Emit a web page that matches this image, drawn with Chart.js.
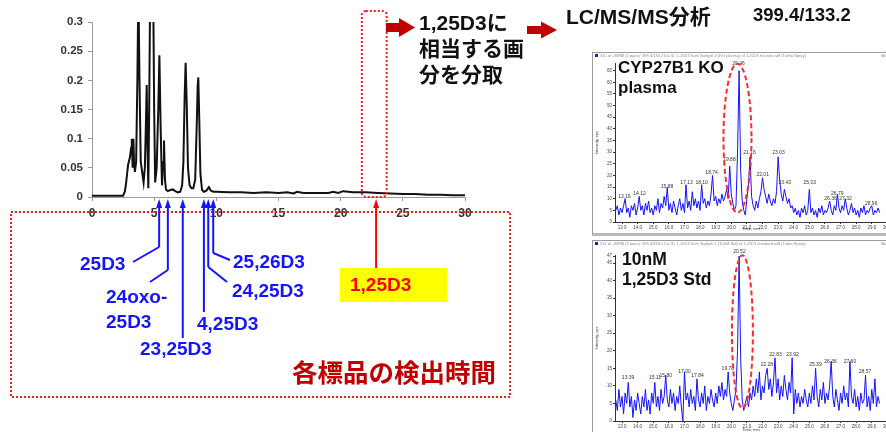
<!DOCTYPE html>
<html>
<head>
<meta charset="utf-8">
<script src="https://cdn.jsdelivr.net/npm/chart.js@4.4.1/dist/chart.umd.min.js"></script>
<style>
  html, body { margin: 0; padding: 0; background: #fff; }
  body { width: 886px; height: 432px; position: relative; overflow: hidden; }
  #main { position: absolute; left: 0; top: 0; }
  .ms { position: absolute; left: 592px; width: 310px; border: 1px solid #9a9a9a; background: #fff; }
  .ms canvas { display: block; }
  #koBox { top: 52px; height: 180px; border-bottom: 3px solid #b8b8b8; }
  #stdBox { top: 240px; height: 200px; }
</style>
</head>
<body>
<canvas id="main" width="886" height="432"></canvas>
<div class="ms" id="koBox"><canvas id="koChart" width="310" height="180"></canvas></div>
<div class="ms" id="stdBox"><canvas id="stdChart" width="310" height="200"></canvas></div>
<script>
const SANS = '"Liberation Sans", "Noto Sans CJK JP", sans-serif';
Chart.defaults.font.family = SANS;

// ===== DATA: fraction chromatogram (UV, 0-30 min) =====
const mainTime = [
  0, 2.5, 2.65, 2.75, 2.9, 3.05, 3.15, 3.2, 3.27, 3.33,
  3.38, 3.45, 3.55, 3.65, 3.73, 3.82, 3.92, 4.02, 4.15, 4.25,
  4.33, 4.4, 4.47, 4.53, 4.6, 4.68, 4.8, 4.92, 5.0, 5.08,
  5.2, 5.33, 5.42, 5.52, 5.63, 5.72, 5.79, 5.87, 5.95, 6.1,
  6.3, 6.5, 6.7, 6.9, 7.1, 7.25, 7.35, 7.45, 7.53, 7.62,
  7.72, 7.85, 8.0, 8.15, 8.3, 8.42, 8.5, 8.55, 8.62, 8.72,
  8.85, 9.0, 9.2, 9.4, 9.55, 9.75, 10, 11, 12, 13,
  14, 15, 15.7, 16.2, 16.5, 17, 18, 19, 19.4, 19.8,
  20.2, 20.6, 21, 22, 23, 24, 25, 26, 27, 28,
  29, 30
];
const mainAbs = [
  0.002, 0.002, 0.01, 0.025, 0.055, 0.068, 0.085, 0.1, 0.05, 0.1,
  0.06, 0.043, 0.06, 0.2, 0.36, 0.2, 0.06, 0.045, 0.025, 0.05,
  0.12, 0.192, 0.08, 0.015, 0.15, 0.36, 0.42, 0.36, 0.15, 0.025,
  0.05, 0.15, 0.243, 0.12, 0.02, 0.06, 0.097, 0.03, 0.013, 0.01,
  0.012, 0.013, 0.01, 0.008, 0.009, 0.02, 0.06, 0.17, 0.23, 0.16,
  0.05, 0.02, 0.015, 0.015, 0.03, 0.12, 0.19, 0.205, 0.14, 0.04,
  0.012, 0.009, 0.011, 0.017, 0.011, 0.009, 0.009, 0.008, 0.008, 0.007,
  0.008, 0.007, 0.008, 0.006, 0.009, 0.007, 0.007, 0.007, 0.009, 0.007,
  0.01, 0.009, 0.008, 0.008, 0.007, 0.006, 0.005, 0.005, 0.004, 0.004,
  0.003, 0.003
];
const mainXTicks = [0, 5, 10, 15, 20, 25, 30];
const mainYTicks = [0, 0.05, 0.1, 0.15, 0.2, 0.25, 0.3];

const stdNames = ['25D3', '24oxo-25D3', '23,25D3', '4,25D3', '24,25D3', '25,26D3'];
const stdTimes = [5.4, 6.1, 7.3, 9.0, 9.35, 9.75];
const targetName = '1,25D3';
const targetTime = 22.85;
const fractionWindow = [21.7, 23.7];

// ===== DATA: LC/MS/MS traces 399.4/133.2 =====
const msTimes = [
  12.6, 12.7, 12.8, 12.9, 13.0, 13.1, 13.2, 13.3, 13.4, 13.5,
  13.6, 13.7, 13.8, 13.9, 14.0, 14.1, 14.2, 14.3, 14.4, 14.5,
  14.6, 14.7, 14.8, 14.9, 15.0, 15.1, 15.2, 15.3, 15.4, 15.5,
  15.6, 15.7, 15.8, 15.9, 16.0, 16.1, 16.2, 16.3, 16.4, 16.5,
  16.6, 16.7, 16.8, 16.9, 17.0, 17.1, 17.2, 17.3, 17.4, 17.5,
  17.6, 17.7, 17.8, 17.9, 18.0, 18.1, 18.2, 18.3, 18.4, 18.5,
  18.6, 18.7, 18.8, 18.9, 19.0, 19.1, 19.2, 19.3, 19.4, 19.5,
  19.6, 19.7, 19.8, 19.9, 20.0, 20.1, 20.2, 20.3, 20.4, 20.5,
  20.6, 20.7, 20.8, 20.9, 21.0, 21.1, 21.2, 21.3, 21.4, 21.5,
  21.6, 21.7, 21.8, 21.9, 22.0, 22.1, 22.2, 22.3, 22.4, 22.5,
  22.6, 22.7, 22.8, 22.9, 23.0, 23.1, 23.2, 23.3, 23.4, 23.5,
  23.6, 23.7, 23.8, 23.9, 24.0, 24.1, 24.2, 24.3, 24.4, 24.5,
  24.6, 24.7, 24.8, 24.9, 25.0, 25.1, 25.2, 25.3, 25.4, 25.5,
  25.6, 25.7, 25.8, 25.9, 26.0, 26.1, 26.2, 26.3, 26.4, 26.5,
  26.6, 26.7, 26.8, 26.9, 27.0, 27.1, 27.2, 27.3, 27.4, 27.5,
  27.6, 27.7, 27.8, 27.9, 28.0, 28.1, 28.2, 28.3, 28.4, 28.5,
  28.6, 28.7, 28.8, 28.9, 29.0, 29.1, 29.2, 29.3, 29.4, 29.5
];
const koCps = [
  5, 7, 3, 6, 4, 7, 10, 4, 6, 2,
  7, 5, 8, 3, 6, 11, 5, 7, 3, 8,
  5, 9, 4, 6, 3, 7, 5, 10, 4, 8,
  6, 11, 7, 15, 5, 8, 4, 9, 6, 3,
  7, 10, 5, 8, 4, 16, 6, 9, 5, 13,
  7, 10, 6, 9, 5, 16, 8, 10, 6, 9,
  7, 12, 20, 9, 11, 7, 10, 8, 12, 9,
  11, 14, 10, 24, 12, 8, 5, 7, 30, 65,
  22, 9, 5, 3, 10, 16, 28, 11, 7, 5,
  9, 6, 10, 13, 19, 14, 11, 8, 12, 9,
  7, 10, 8, 13, 28, 18, 12, 9, 14, 11,
  8, 10, 6, 7, 4, 6, 3, 5, 2, 6,
  4, 7, 3, 5, 14, 4, 6, 3, 5, 2,
  6, 4, 7, 3, 5, 4, 6, 9, 5, 3,
  7, 5, 12, 6, 4, 7, 5, 10, 6, 3,
  5, 8, 4, 6, 3, 5, 2, 6, 4, 7,
  3, 5, 4, 6, 7, 3, 5, 4, 6, 4
];
const stdCps = [
  6, 3, 9, 4, 7, 2, 8, 5, 11, 4,
  7, 1, 6, 3, 8, 5, 2, 7, 4, 9,
  3, 6, 2, 8, 5, 11, 4, 7, 3, 9,
  5, 7, 13, 6, 4, 9, 5, 8, 3, 7,
  5, 10, 4, 0, 14, 6, 8, 4, 9, 5,
  7, 3, 12, 6, 4, 8, 5, 10, 3, 7,
  5, 9, 6, 4, 8, 5, 10, 7, 11, 6,
  9, 7, 14, 8, 5, 3, 6, 9, 20, 47,
  18, 6, 3, 5, 7, 4, 8, 6, 10, 7,
  12, 8, 14, 6, 10, 8, 13, 15, 9, 12,
  7, 11, 18, 8, 12, 6, 10, 7, 13, 9,
  6, 11, 8, 18, 2, 9, 5, 8, 4, 7,
  5, 9, 6, 4, 8, 5, 10, 6, 15, 7,
  4, 9, 6, 11, 5, 8, 6, 10, 17, 7,
  4, 9, 6, 3, 8, 5, 10, 6, 8, 4,
  17, 7, 5, 9, 4, 7, 3, 8, 5, 6,
  13, 4, 7, 3, 9, 5, 12, 4, 7, 5
];
const msXTicks = [13, 14, 15, 16, 17, 18, 19, 20, 21, 22, 23, 24, 25, 26, 27, 28, 29, 30];
const koYTicks = [0, 5, 10, 15, 20, 25, 30, 35, 40, 45, 50, 55, 60, 65];
const stdYTicks = [0, 5, 10, 15, 20, 25, 30, 35, 40, 45, 47];

const koPeakTimes = [13.16, 14.12, 15.88, 17.13, 18.10, 18.74, 19.88, 20.46, 21.16, 22.01, 23.03, 23.43, 25.03, 26.36, 26.79, 27.32, 28.96];
const koPeakLevels = [11, 12, 15, 17, 17, 21, 27, 68, 30, 20.5, 30, 17, 17, 10, 12, 10, 8];
const stdPeakTimes = [13.39, 15.11, 15.80, 17.00, 17.84, 19.78, 20.52, 22.28, 22.83, 23.92, 25.39, 26.36, 27.60, 28.57];
const stdPeakLevels = [12.5, 12.5, 13, 14, 13, 15, 48.2, 16, 19, 19, 16, 17, 17, 14];

// ===== MAIN OVERLAY =====
function arrowUp(ctx, x, tipY, endY, color, w, headW, headH) {
  ctx.strokeStyle = color;
  ctx.fillStyle = color;
  ctx.lineWidth = w;
  ctx.beginPath();
  ctx.moveTo(x, tipY + headH - 1);
  ctx.lineTo(x, endY);
  ctx.stroke();
  ctx.beginPath();
  ctx.moveTo(x, tipY);
  ctx.lineTo(x - headW / 2, tipY + headH);
  ctx.lineTo(x + headW / 2, tipY + headH);
  ctx.closePath();
  ctx.fill();
}

function fatArrow(ctx, x0, x1, cy, shaftH, headL, headH) {
  ctx.fillStyle = '#c00000';
  ctx.beginPath();
  ctx.moveTo(x0, cy - shaftH / 2);
  ctx.lineTo(x1 - headL, cy - shaftH / 2);
  ctx.lineTo(x1 - headL, cy - headH / 2);
  ctx.lineTo(x1, cy);
  ctx.lineTo(x1 - headL, cy + headH / 2);
  ctx.lineTo(x1 - headL, cy + shaftH / 2);
  ctx.lineTo(x0, cy + shaftH / 2);
  ctx.closePath();
  ctx.fill();
}

// where each standard's leader ends and its label sits
const stdLayout = [
  { end: 247, bend: [133, 262], lx: 80, ly: 265 },
  { end: 270, bend: [150, 282], lx: 106, ly: 298 },
  { end: 338, bend: null, lx: 140, ly: 350 },
  { end: 312, bend: null, lx: 197, ly: 325 },
  { end: 267, bend: [227, 282], lx: 232, ly: 292 },
  { end: 253, bend: [230, 260], lx: 233, ly: 263 }
];

const mainOverlay = {
  id: 'mainOverlay',
  afterDraw(chart) {
    const { ctx, scales: { x } } = chart;
    ctx.save();

    // dotted frames
    ctx.strokeStyle = '#e8201c';
    ctx.lineWidth = 2;
    ctx.setLineDash([2, 2]);
    ctx.strokeRect(11, 212, 499, 185);
    const fx0 = x.getPixelForValue(fractionWindow[0]);
    const fx1 = x.getPixelForValue(fractionWindow[1]);
    ctx.beginPath();
    ctx.roundRect(fx0, 11, fx1 - fx0, 186, 4);
    ctx.stroke();
    ctx.setLineDash([]);

    // standards
    const blue = '#1414ff';
    ctx.font = 'bold 19px ' + SANS;
    ctx.textBaseline = 'middle';
    ctx.textAlign = 'left';
    stdTimes.forEach((t, i) => {
      const px = x.getPixelForValue(t);
      const L = stdLayout[i];
      arrowUp(ctx, px, 199, L.end, blue, 2, 6, 9);
      if (L.bend) {
        ctx.beginPath();
        ctx.moveTo(px, L.end);
        ctx.lineTo(L.bend[0], L.bend[1]);
        ctx.stroke();
      }
      ctx.fillStyle = blue;
      stdNames[i].replace('-', '-\n').split('\n').forEach((line, j) => {
        ctx.fillText(line, L.lx, L.ly + j * 25);
      });
    });

    // target 1,25D3
    ctx.fillStyle = '#ffff00';
    ctx.fillRect(340, 268, 107, 34);
    arrowUp(ctx, x.getPixelForValue(targetTime), 199, 268, '#ff0000', 2, 6, 9);
    ctx.fillStyle = '#ff0000';
    ctx.fillText(targetName, 350, 286);

    ctx.fillStyle = '#c00000';
    ctx.font = 'bold 25.5px "Noto Sans CJK JP", sans-serif';
    ctx.fillText('各標品の検出時間', 292, 372);

    // top workflow text
    fatArrow(ctx, 386, 415, 27.5, 9, 16, 19);
    fatArrow(ctx, 527, 557, 30, 8, 16, 17);
    ctx.fillStyle = '#111';
    ctx.font = 'bold 21px ' + SANS;
    ctx.fillText('1,25D3に', 419, 24);
    ctx.fillText('相当する画', 419, 50);
    ctx.fillText('分を分取', 419, 76);
    ctx.fillText('LC/MS/MS分析', 566, 18);
    ctx.font = 'bold 18.5px ' + SANS;
    ctx.fillText('399.4/133.2', 753, 16);
    ctx.restore();
  }
};

new Chart(document.getElementById('main'), {
  type: 'line',
  data: {
    datasets: [{
      data: mainTime.map((t, i) => ({ x: t, y: mainAbs[i] })),
      borderColor: '#111',
      borderWidth: 2,
      pointRadius: 0,
      tension: 0,
      fill: false
    }]
  },
  options: {
    responsive: false,
    animation: false,
    layout: { padding: { left: 52, top: 22, right: 421, bottom: 215 } },
    plugins: { legend: { display: false }, tooltip: { enabled: false } },
    scales: {
      x: {
        type: 'linear', min: 0, max: 30,
        afterFit: s => { s.height = 20; },
        afterBuildTicks: s => { s.ticks = mainXTicks.map(v => ({ value: v })); },
        grid: { drawOnChartArea: false, tickLength: 4, color: '#9a9a9a' },
        border: { color: '#9a9a9a' },
        ticks: { font: { size: 12, weight: 'bold' }, color: '#333', padding: 5, maxRotation: 0, autoSkip: false }
      },
      y: {
        min: 0, max: 0.3,
        afterFit: s => { s.width = 40; },
        afterBuildTicks: s => { s.ticks = mainYTicks.map(v => ({ value: v })); },
        grid: { drawOnChartArea: false, tickLength: 4, color: '#9a9a9a' },
        border: { color: '#9a9a9a' },
        ticks: { font: { size: 11.5, weight: 'bold' }, color: '#333', padding: 5, callback: v => String(+v.toFixed(2)) }
      }
    }
  },
  plugins: [mainOverlay]
});

// ===== SMALL MS CHARTS =====
function msOverlay(cfg) {
  return {
    id: 'msOverlay',
    afterDraw(chart) {
      const { ctx, scales: { x, y }, chartArea } = chart;
      ctx.save();
      // header strip
      ctx.fillStyle = '#1a1acc';
      ctx.fillRect(2, 1, 3, 3);
      ctx.fillStyle = '#8a8a8a';
      ctx.font = '4px ' + SANS;
      ctx.textBaseline = 'top';
      ctx.fillText(cfg.header, 7, 0.5);
      ctx.fillText('Max. ' + cfg.max + ' cps.', 288, 0.5);
      // axis titles
      ctx.fillStyle = '#333';
      ctx.textAlign = 'center';
      ctx.textBaseline = 'middle';
      ctx.fillText('Time, min', 158, cfg.timeY);
      ctx.save();
      ctx.translate(4, (chartArea.top + chartArea.bottom) / 2);
      ctx.rotate(-Math.PI / 2);
      ctx.fillText('Intensity, cps', 0, 0);
      ctx.restore();
      // peak labels
      ctx.font = '5px ' + SANS;
      cfg.peakTimes.forEach((t, i) => {
        ctx.fillText(t.toFixed(2), x.getPixelForValue(t), y.getPixelForValue(cfg.peakLevels[i]));
      });
      // dashed ellipse round the 1,25D3 peak
      const top = y.getPixelForValue(cfg.ring[1]);
      const bot = y.getPixelForValue(cfg.ring[2]);
      ctx.strokeStyle = '#ff2a2a';
      ctx.lineWidth = 2;
      ctx.setLineDash([5, 3]);
      ctx.beginPath();
      ctx.ellipse(x.getPixelForValue(cfg.ring[0]) + cfg.ringShift, (top + bot) / 2, cfg.ringRx, (bot - top) / 2, 0, 0, Math.PI * 2);
      ctx.stroke();
      ctx.setLineDash([]);
      // caption
      ctx.fillStyle = '#111';
      ctx.font = 'bold ' + cfg.capSize + 'px ' + SANS;
      ctx.textAlign = 'left';
      cfg.caption.forEach((line, i) => ctx.fillText(line, cfg.capX, cfg.capY + i * 20));
      ctx.restore();
    }
  };
}

function msChart(id, values, yMax, yTicks, padTop, xHeight, cfg) {
  return new Chart(document.getElementById(id), {
    type: 'line',
    data: {
      datasets: [{
        data: msTimes.map((t, i) => ({ x: t, y: values[i] })),
        borderColor: '#1212ff',
        borderWidth: 1,
        pointRadius: 0,
        tension: 0
      }]
    },
    options: {
      responsive: false,
      animation: false,
      layout: { padding: { left: 0, top: padTop, right: 0, bottom: 0 } },
      plugins: { legend: { display: false }, tooltip: { enabled: false } },
      scales: {
        x: {
          type: 'linear', min: 12.55, max: 31,
          afterFit: s => { s.height = xHeight; },
          afterBuildTicks: s => { s.ticks = msXTicks.map(v => ({ value: v })); },
          grid: { drawOnChartArea: false, tickLength: 2, color: '#333' },
          border: { color: '#333' },
          ticks: { font: { size: 4.5 }, color: '#444', padding: 1, maxRotation: 0, autoSkip: false, callback: v => v.toFixed(1) }
        },
        y: {
          min: 0, max: yMax,
          afterFit: s => { s.width = 22; },
          afterBuildTicks: s => { s.ticks = yTicks.map(v => ({ value: v })); },
          grid: { drawOnChartArea: false, tickLength: 2, color: '#333' },
          border: { color: '#333' },
          ticks: { font: { size: 4.5 }, color: '#444', padding: 1, autoSkip: false }
        }
      }
    },
    plugins: [msOverlay(cfg)]
  });
}

msChart('koChart', koCps, 68.3, koYTicks, 10, 11, {
  header: 'XIC of +MRM (2 pairs): 399.4/133.2 Da ID: 1,25D3 from Sample 3 (KO plasma) of 1,25D3 fraction.wiff (Turbo Spray)',
  max: '66.0',
  timeY: 176,
  peakTimes: koPeakTimes,
  peakLevels: koPeakLevels,
  ring: [20.46, 68, 4],
  ringShift: -1,
  ringRx: 14,
  caption: ['CYP27B1 KO', 'plasma'],
  capSize: 17,
  capX: 25,
  capY: 15
});

msChart('stdChart', stdCps, 47.3, stdYTicks, 14, 20, {
  header: 'XIC of +MRM (2 pairs): 399.4/133.2 Da ID: 1,25D3 from Sample 1 (10nM Std) of 1,25D3 standard.wiff (Turbo Spray)',
  max: '47.0',
  timeY: 189,
  peakTimes: stdPeakTimes,
  peakLevels: stdPeakLevels,
  ring: [20.52, 47.2, 3.7],
  ringShift: 3,
  ringRx: 10.5,
  caption: ['10nM', '1,25D3 Std'],
  capSize: 17.5,
  capX: 29,
  capY: 19
});
</script>
</body>
</html>
